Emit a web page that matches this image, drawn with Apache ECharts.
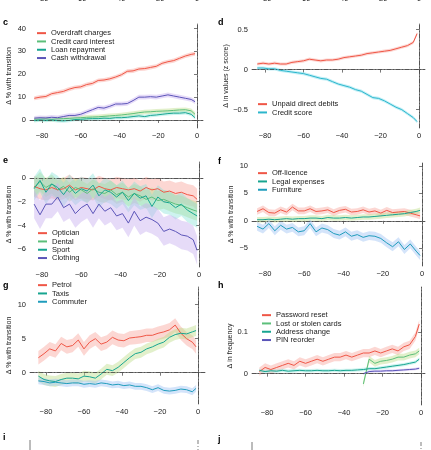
<!DOCTYPE html>
<html>
<head>
<meta charset="utf-8">
<script src="https://cdn.jsdelivr.net/npm/echarts@6/dist/echarts.min.js"></script>
<style>html,body{margin:0;padding:0;background:#fff}#main{width:431px;height:450px}</style>
</head>
<body>
<div id="main"></div>
<script>
// days before transition
var xs = [-84,-81,-78,-75,-72,-69,-66,-63,-60,-57,-54,-51,-48,-45,-42,-39,-36,-33,-30,-27,-24,-21,-18,-15,-12,-9,-6,-3,-1];
var xsLate = [-30,-27,-24,-21,-18,-15,-12,-9,-6,-3,-1];
var ticksX = [-80,-60,-40,-20,0];

// panel c
var overdraft = [9.5,10,10.3,11.5,12,12.5,13.5,14.2,14.5,15.5,16,17.3,17.5,18,18.8,19.8,21.3,21.5,22.3,22.5,23,23.5,24.8,25.5,26,27,28,28.7,29];
var creditInterest = [0.3,0.4,0.5,0.3,0.5,0.6,0.7,0.9,1,1.2,1.3,1.4,1.6,1.8,2,2.2,2.5,2.8,3.2,3.5,3.6,3.8,3.9,4,4.2,4.4,4.5,4,2.5];
var loanRepay = [-0.3,0,-0.2,0,-0.3,-0.4,-0.2,0.2,0.3,0.5,0.6,0.6,0.8,0.7,1,1,1.2,1.5,1.8,1.5,2,2.2,2.5,2.8,3,3,3.2,2.5,1];
var cashWithdrawal = [0.8,1,0.9,1.2,1,1.5,2,2,2.5,3.5,4.5,5.5,5.2,6,7,7,7.2,8.5,10,10,10.2,10,10.5,11,10.5,10,9.5,9,8];
// panel d
var unpaidDebits = [0.07,0.08,0.07,0.08,0.07,0.07,0.09,0.1,0.11,0.13,0.12,0.11,0.12,0.12,0.13,0.15,0.16,0.17,0.18,0.2,0.21,0.22,0.23,0.24,0.26,0.28,0.3,0.34,0.45];
var creditScore = [0.02,0.02,0.01,0.01,-0.01,-0.02,-0.03,-0.04,-0.05,-0.07,-0.09,-0.11,-0.12,-0.15,-0.18,-0.2,-0.22,-0.25,-0.27,-0.31,-0.35,-0.36,-0.39,-0.43,-0.47,-0.5,-0.55,-0.6,-0.65];
// panel e
var optician = [-0.7,-0.9,-1,-0.8,-1,-0.9,-0.6,-1,-0.8,-0.9,-1,-0.7,-0.9,-1,-0.8,-0.9,-1,-0.9,-1.1,-0.8,-1,-0.9,-1.2,-1.1,-1.3,-1.2,-1.4,-1.5,-1.8];
var dental = [-0.8,-0.3,-0.8,-0.5,-1,-0.7,-1.2,-0.8,-1,-1.3,-0.9,-1.2,-1.3,-1,-1.4,-1.2,-1.6,-1.3,-1.5,-1.8,-1.6,-1.9,-1.8,-2,-2.2,-2.3,-2.5,-2.7,-2.8];
var sport = [-0.9,-0.2,-1.2,-0.5,-0.8,-1.4,-0.7,-1.3,-0.9,-1.1,-0.6,-1.5,-1,-1.2,-1.6,-1.2,-1.9,-1.3,-1.7,-1.5,-2.4,-1.6,-2,-2.1,-2.5,-2.2,-2.7,-3,-3.2];
var clothing = [-2.2,-3.1,-2.2,-2.2,-1.6,-2.5,-2.2,-3,-2.5,-2.2,-3,-2.2,-2.8,-2.5,-3.2,-3,-3.8,-2.8,-3.6,-3.3,-3.5,-3.8,-4.5,-4.3,-4.5,-4.8,-4.9,-5.2,-6.1];
// panel f
var offLicence = [1.7,2.2,1.5,1.4,2,1.6,2.5,1.8,1.8,2.2,1.7,1.8,2,1.5,1.9,2.1,1.6,1.7,2,1.6,1.8,1.4,1.9,1.5,1.6,1.7,1.4,1.1,0.9];
var legal = [0.2,0.2,0.3,0.2,0.3,0.4,0.3,0.4,0.4,0.5,0.5,0.4,0.6,0.5,0.5,0.6,0.5,0.6,0.7,0.7,0.8,0.9,1,1.1,1.2,1.3,1.5,1.7,1.9];
var furniture = [-1,-1.5,-0.5,-1.8,-0.8,-1.5,-1.2,-2,-1.8,-0.5,-2,-1.3,-1.6,-2.3,-2.6,-2,-2.8,-2.5,-3,-2.7,-2.8,-3.2,-4,-4.7,-3.8,-5.2,-4.2,-5.5,-6.3];
// panel g
var petrol = [2.2,2.8,3.5,3.2,4.3,3.8,4,4.8,3.5,4.5,5,4.2,4.5,5.2,4.8,4.7,5.1,5.2,5.3,5.5,5.5,5.8,6,6.3,7,5.8,5,4.5,3.8];
var taxis = [-0.5,-1,-1.2,-1.3,-1,-0.8,-0.8,-0.9,-0.5,-0.6,-0.8,-0.2,0.5,0.3,0.8,1.5,2.2,2.8,3,3.5,3.8,4.2,4.5,5.2,5.6,5.8,5.7,6,6.2];
var commuter = [-1.2,-1.3,-1.5,-1.4,-1.5,-1.6,-1.5,-1.5,-1.7,-1.6,-1.7,-1.5,-1.6,-1.8,-1.7,-1.9,-1.8,-2,-2,-2.2,-2.5,-2.2,-2.6,-2.7,-2.6,-2.4,-2.5,-2.8,-2.3];
// panel h
var passwordReset = [0.005,0.015,0.01,0.015,0.02,0.025,0.02,0.03,0.025,0.03,0.035,0.03,0.035,0.04,0.04,0.045,0.04,0.045,0.05,0.05,0.055,0.05,0.055,0.06,0.055,0.065,0.07,0.09,0.12];
var addressChange = [0.008,0.005,0.007,0.006,0.008,0.006,0.007,0.008,0.007,0.007,0.008,0.007,0.007,0.008,0.007,0.008,0.008,0.009,0.01,0.012,0.012,0.014,0.016,0.018,0.02,0.022,0.025,0.028,0.035];
var lostCards = [-0.025,0.035,0.025,0.03,0.032,0.035,0.04,0.04,0.045,0.048,0.055];
var pinReorder = [0.0,0.005,0.006,0.006,0.007,0.007,0.008,0.009,0.01,0.011,0.013];

var RED = '#ef5646', GREEN = '#5cbf7a', TEAL = '#17a590', PURPLE = '#5a54b8', CYAN = '#2cb6cc', BLUE = '#1f9cbc';
var B_RED = 'rgba(246,140,130,0.35)', B_GREEN = 'rgba(190,222,140,0.45)', B_TEAL = 'rgba(130,225,215,0.4)',
    B_PURPLE = 'rgba(200,175,240,0.45)', B_CYAN = 'rgba(120,220,235,0.45)', B_BLUE = 'rgba(160,195,245,0.45)';

var panels = [
  {label:'c', grid:{left:30,top:24,width:173,height:104}, x:[-86.2,3.1], y:[-3.5,42], yt:[0,10,20,30,40], name:'Δ % with transition',
   legend:{left:37,top:29}, series:[
    ['Overdraft charges', xs, overdraft, 0.9, RED, B_RED],
    ['Credit card interest', xs, creditInterest, 1.0, GREEN, B_GREEN],
    ['Loan repayment', xs, loanRepay, 0.8, TEAL, B_TEAL],
    ['Cash withdrawal', xs, cashWithdrawal, 1.0, PURPLE, B_PURPLE]]},
  {label:'d', grid:{left:252,top:24,width:173,height:104}, x:[-86.75,3.1], y:[-0.73,0.57], yt:[-0.5,0,0.5], name:'Δ in values (z score)',
   legend:{left:258,top:100}, series:[
    ['Unpaid direct debits', xs, unpaidDebits, 0.02, RED, B_RED],
    ['Credit score', xs, creditScore, 0.02, CYAN, B_CYAN]]},
  {label:'e', grid:{left:30,top:162,width:173,height:105}, x:[-86.1,2], y:[-7.5,1.35], yt:[-6,-4,-2,0], name:'Δ % with transition',
   legend:{left:38,top:229}, series:[
    ['Optician', xs, optician, 0.9, RED, B_RED],
    ['Dental', xs, dental, 0.8, GREEN, B_GREEN],
    ['Sport', xs, sport, 1.0, TEAL, B_TEAL],
    ['Clothing', xs, clothing, 1.2, PURPLE, B_PURPLE]]},
  {label:'f', grid:{left:252,top:163,width:173,height:103}, x:[-86.6,1.5], y:[-8.2,10.5], yt:[-5,0,5,10], name:'Δ % with transition',
   legend:{left:258,top:169}, series:[
    ['Off-licence', xs, offLicence, 0.6, RED, B_RED],
    ['Legal expenses', xs, legal, 0.5, TEAL, B_GREEN],
    ['Furniture', xs, furniture, 0.8, BLUE, B_BLUE]]},
  {label:'g', grid:{left:30,top:287,width:175,height:117}, x:[-88.4,3.7], y:[-4.6,12.6], yt:[0,5,10], name:'Δ % with transition',
   legend:{left:38,top:281}, series:[
    ['Petrol', xs, petrol, 1.0, RED, B_RED],
    ['Taxis', xs, taxis, 0.8, TEAL, B_GREEN],
    ['Commuter', xs, commuter, 0.5, BLUE, B_BLUE]]},
  {label:'h', grid:{left:252,top:287,width:173,height:118}, x:[-87.8,2], y:[-0.076,0.21], yt:[0,0.1], name:'Δ in frequency',
   legend:{left:262,top:311}, series:[
    ['Password reset', xs, passwordReset, 0.01, RED, B_RED],
    ['Lost or stolen cards', xsLate, lostCards, 0.008, GREEN, B_GREEN],
    ['Address change', xs, addressChange, 0.004, TEAL, B_TEAL],
    ['PIN reorder', xsLate, pinReorder, 0.003, PURPLE, B_PURPLE]]}
];

var FONT = 'Liberation Sans, Arial, sans-serif';
var AX = '#555';
var option = {animation:false, grid:[], xAxis:[], yAxis:[], series:[], legend:[], graphic:[]};
var dashDot = [4,2,1,2];

panels.forEach(function (p, i) {
  option.grid.push(p.grid);
  option.xAxis.push({type:'value', gridIndex:i, min:p.x[0], max:p.x[1],
    axisLine:{show:true, lineStyle:{color:AX, width:0.8}}, splitLine:{show:false},
    axisTick:{show:true, length:3, customValues:ticksX, lineStyle:{color:AX, width:0.8}},
    axisLabel:{customValues:ticksX, fontSize:7.5, color:'#222', fontFamily:FONT, margin:4,
      formatter:function (v) { return v < 0 ? '\u2212' + (-v) : String(v); }}});
  option.yAxis.push({type:'value', gridIndex:i, min:p.y[0], max:p.y[1], name:p.name,
    nameLocation:'middle', nameGap:p.label === 'd' ? 22 : 17, nameTextStyle:{fontSize:7, color:'#222', fontFamily:FONT},
    axisLine:{show:true, lineStyle:{color:AX, width:0.8}}, splitLine:{show:false},
    axisTick:{show:true, length:3, customValues:p.yt, lineStyle:{color:AX, width:0.8}},
    axisLabel:{customValues:p.yt, fontSize:7.5, color:'#222', fontFamily:FONT, margin:4,
      formatter:function (v) { return v < 0 ? '\u2212' + (-v) : String(v); }}});
  var names = [];
  p.series.forEach(function (s) {
    var sx = s[1], sy = s[2], hw = s[3];
    option.series.push({type:'custom', xAxisIndex:i, yAxisIndex:i, data:[[0]], silent:true, z:1,
      renderItem:function (params, api) {
        var pts = [];
        for (var k = 0; k < sx.length; k++) pts.push(api.coord([sx[k], sy[k] + hw]));
        for (var k2 = sx.length - 1; k2 >= 0; k2--) pts.push(api.coord([sx[k2], sy[k2] - hw]));
        return {type:'polygon', shape:{points:pts}, style:{fill:s[5]}};
      }});
    option.series.push({type:'line', name:s[0], xAxisIndex:i, yAxisIndex:i, showSymbol:false, z:3,
      data:sx.map(function (x, k) { return [x, sy[k]]; }),
      lineStyle:{color:s[4], width:1}, itemStyle:{color:s[4]}});
    names.push(s[0]);
  });
  option.series[option.series.length - 1].markLine = {silent:true, symbol:'none', label:{show:false},
    lineStyle:{color:'#444', width:0.7, type:dashDot},
    data:[{yAxis:0}, {xAxis:0}]};
  option.legend.push({left:p.legend.left, top:p.legend.top, orient:'vertical', data:names,
    icon:'rect', itemWidth:9, itemHeight:2, itemGap:0, padding:0,
    textStyle:{fontSize:7.5, lineHeight:8.3, height:8.3, color:'#222', fontFamily:FONT}});
  option.graphic.push({type:'text', left:p.grid.left - (p.label === 'd' || p.label === 'f' || p.label === 'h' ? 34 : 27), top:p.grid.top - 6,
    style:{text:p.label, font:'bold 9px ' + FONT, fill:'#000'}});
});

// cut-off tick labels of the panels above and below
[[42,80,119,158,197],[265,304,342,381,419]].forEach(function (col) {
  col.forEach(function (px, k) {
    var v = ticksX[k];
    option.graphic.push({type:'text', x:px, y:-5, style:{text:v < 0 ? '\u2212' + (-v) : '0',
      font:'7.5px ' + FONT, fill:'#222', align:'center'}});
  });
});
option.graphic.push({type:'text', left:3, top:433, style:{text:'i', font:'bold 9px ' + FONT, fill:'#000'}});
option.graphic.push({type:'text', left:218, top:435, style:{text:'j', font:'bold 9px ' + FONT, fill:'#000'}});
option.graphic.push({type:'line', shape:{x1:30, y1:440, x2:30, y2:450}, style:{stroke:AX, lineWidth:0.8}});
option.graphic.push({type:'line', shape:{x1:198, y1:440, x2:198, y2:450}, style:{stroke:'#444', lineWidth:0.7, lineDash:dashDot}});
option.graphic.push({type:'line', shape:{x1:252, y1:442, x2:252, y2:450}, style:{stroke:AX, lineWidth:0.8}});
option.graphic.push({type:'line', shape:{x1:421, y1:442, x2:421, y2:450}, style:{stroke:'#444', lineWidth:0.7, lineDash:dashDot}});

var myChart = echarts.init(document.getElementById('main'));
myChart.setOption(option);
</script>
</body>
</html>
